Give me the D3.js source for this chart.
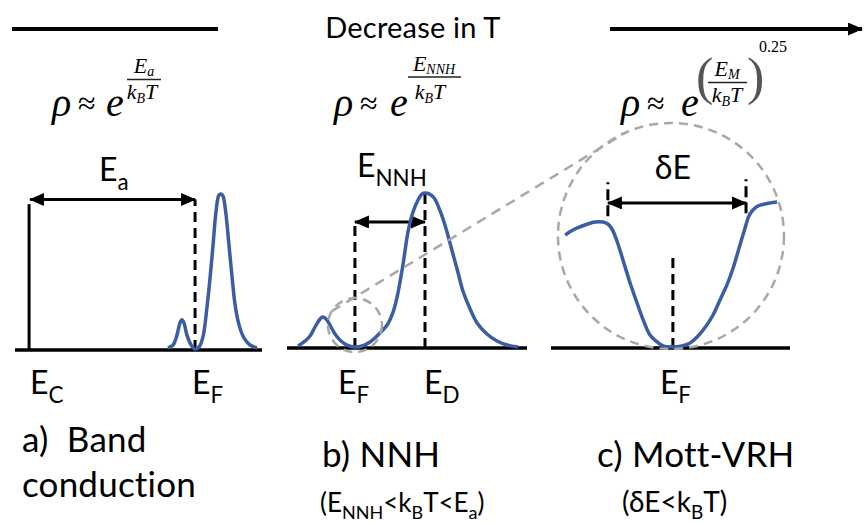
<!DOCTYPE html>
<html><head><meta charset="utf-8">
<script src="https://cdn.jsdelivr.net/npm/d3@7"></script>
<style>body{margin:0;background:#fff}svg{display:block}text{font-variant-ligatures:none;font-feature-settings:"liga" 0,"calt" 0,"dlig" 0}</style>
</head><body>
<script>
// ---------------- DATA ----------------
// (a) Band conduction: density of states vs energy (arbitrary units 0-100)
const bandEnergy = [61.9,64.0,65.6,66.8,67.6,68.4,69.6,71.3,72.9,74.5,76.1,77.7,78.9,80.2,81.4,82.6,83.4,84.2,85.4,86.6,87.9,89.1,90.7,92.7,95.1,98.0];
const bandDOS    = [1.3,3.2,9.7,17.4,19.4,17.4,9.7,3.2,0.6,1.9,8.4,27.1,45.2,67.7,89.0,99.4,100,98.7,87.1,67.7,46.5,29.0,16.1,7.7,3.2,1.3];
const bandLevels = {EC: 5.7, EF: 72.9};

// (b) NNH
const nnhEnergy = [4.6,7.1,9.6,12.1,14.2,15.0,16.3,17.9,20.0,22.5,25.0,28.3,31.3,34.6,37.9,41.7,44.2,45.8,48.3,50.4,52.5,54.6,56.3,57.5,59.2,61.3,63.8,66.3,68.8,71.3,73.3,76.3,79.2,83.3,87.5,91.7,96.3];
const nnhDOS    = [1.3,3.9,7.7,14.8,19.4,20.0,18.7,14.8,9.0,4.5,1.9,0.6,1.3,3.9,8.4,14.8,23.2,32.3,53.5,74.8,87.7,95.5,99.4,100,99.4,96.8,88.4,76.8,62.6,48.4,36.8,25.2,16.1,9.0,4.5,1.9,0.6];
const nnhLevels = {EF: 28.3, ED: 57.5};

// (c) Mott-VRH (zoom near EF)
const vrhEnergy = [5.9,10.0,14.2,18.4,21.8,23.8,25.5,27.6,30.1,33.1,36.0,38.9,41.4,44.4,46.9,51.0,54.8,58.2,61.5,64.9,67.8,70.7,73.6,76.2,78.7,81.2,82.8,84.5,86.6,89.5,94.6];
const vrhDOS    = [76.4,80.4,83.1,85.1,85.1,83.8,80.4,72.3,59.5,43.9,30.4,17.6,8.8,4.1,1.4,0.7,1.4,3.4,8.1,14.9,22.3,32.4,42.6,54.1,67.6,81.1,89.2,93.2,95.9,97.3,98.6];
const vrhLevels = {EF: 51.0, dE1: 23.8, dE2: 81.6};

// Text
const topTitle = "Decrease in T";
const panelTitles = [["a)  Band","conduction"],["b) NNH"],["c) Mott-VRH"]];

// ---------------- DRAW ----------------
const W = 865, H = 523;
const svg = d3.select("body").append("svg").attr("width", W).attr("height", H);
const BLUE = "#3a5da3", GREY = "#a8a8a8", INK = "#000";
const SANS = "Lato, 'Open Sans', sans-serif";
const SERIF = "'Liberation Serif', 'DejaVu Serif', serif";

const defs = svg.append("defs");
defs.append("marker").attr("id","ah").attr("markerUnits","userSpaceOnUse")
  .attr("markerWidth",18).attr("markerHeight",14).attr("refX",14).attr("refY",6.5)
  .attr("orient","auto-start-reverse")
  .append("path").attr("d","M0,0 L15,6.5 L0,13 Z").attr("fill","#000");

// scales per panel
const xA = d3.scaleLinear().domain([0,100]).range([15,262]);
const yA = d3.scaleLinear().domain([0,100]).range([350,194]);
const xB = d3.scaleLinear().domain([0,100]).range([287,527]);
const yB = d3.scaleLinear().domain([0,100]).range([348,193]);
const xC = d3.scaleLinear().domain([0,100]).range([551,790]);
const yC = d3.scaleLinear().domain([0,100]).range([348,200]);

function seg(x1,y1,x2,y2,opt={}) {
  const l = svg.append("line").attr("x1",x1).attr("y1",y1).attr("x2",x2).attr("y2",y2)
    .attr("stroke", opt.color||"#000").attr("stroke-width", opt.w||3);
  if (opt.dash) l.attr("stroke-dasharray", opt.dash);
  if (opt.start) l.attr("marker-start","url(#ah)");
  if (opt.end) l.attr("marker-end","url(#ah)");
  return l;
}
function rich(x,y,parts,opt) {
  const t = svg.append("text").attr("x",x).attr("y",y)
    .attr("font-family", opt.family||SANS).attr("font-size", opt.size)
    .attr("text-anchor", opt.anchor||"start").attr("fill",INK);
  if (opt.italic) t.attr("font-style","italic");
  let shift = 0;
  parts.forEach(p => {
    const [txt, kind] = Array.isArray(p) ? p : [p, "n"];
    const target = kind==="sub" ? (opt.subDy!==undefined?opt.subDy:opt.size*0.28) : 0;
    const ts = t.append("tspan").text(txt).attr("dy", target-shift);
    if (kind==="sub") ts.attr("font-size", opt.subSize||opt.size*0.7);
    shift = target;
  });
  return t;
}
function plain(x,y,txt,size,anchor) {
  return svg.append("text").attr("x",x).attr("y",y).attr("text-anchor",anchor||"start")
    .attr("font-family",SANS).attr("font-size",size).attr("fill",INK)
    .style("white-space","pre").style("letter-spacing","0.2px").text(txt);
}

// top arrow + title
seg(12,29,218,29,{w:4});
seg(610,29,862,29,{w:4,end:true});
plain(413,38,topTitle,29,"middle");

const line = (xs,ys) => d3.line().x(d=>xs(d[0])).y(d=>ys(d[1])).curve(d3.curveCatmullRom.alpha(0.5));
const DASH = "10,6";

// ---- panel a ----
seg(xA(0),yA(0),xA(100),yA(0),{w:3.5});
seg(xA(bandLevels.EC),yA(0),xA(bandLevels.EC),yA(93.5),{w:3});
seg(xA(bandLevels.EF),yA(0),xA(bandLevels.EF),yA(96.5),{w:3,dash:DASH});
seg(xA(bandLevels.EC)+1,yA(96.5),xA(bandLevels.EF),yA(96.5),{w:3,start:true,end:true});
svg.append("path").datum(d3.zip(bandEnergy,bandDOS)).attr("d",line(xA,yA))
  .attr("fill","none").attr("stroke",BLUE).attr("stroke-width",3.5);
rich(99,181,["E",["a","sub"]],{size:32});
rich(xA(bandLevels.EC)+1,394,["E",["C","sub"]],{size:32});
rich(xA(bandLevels.EF)-3,394,["E",["F","sub"]],{size:32});

// ---- panel b ----
seg(xB(0),yB(0),xB(100),yB(0),{w:3.5});
seg(xB(nnhLevels.EF),yB(0),xB(nnhLevels.EF),yB(82.6),{w:3,dash:DASH});
seg(xB(nnhLevels.ED),yB(0),xB(nnhLevels.ED),yB(100),{w:3,dash:DASH});
seg(xB(nnhLevels.EF),yB(81.3),xB(nnhLevels.ED),yB(81.3),{w:3,start:true,end:true});
svg.append("path").datum(d3.zip(nnhEnergy,nnhDOS)).attr("d",line(xB,yB))
  .attr("fill","none").attr("stroke",BLUE).attr("stroke-width",3.5);
rich(357,177,["E",["NNH","sub"]],{size:32});
rich(xB(nnhLevels.EF)-17,394,["E",["F","sub"]],{size:32});
rich(xB(nnhLevels.ED)-1,394,["E",["D","sub"]],{size:32});

// ---- panel c ----
seg(xC(0),yC(0),xC(100),yC(0),{w:3.5});
seg(xC(vrhLevels.EF),yC(0),xC(vrhLevels.EF),yC(64),{w:3,dash:DASH});
seg(xC(vrhLevels.dE1),yC(89),xC(vrhLevels.dE1),yC(112),{w:3,dash:"11,5"});
seg(xC(vrhLevels.dE2),yC(91),xC(vrhLevels.dE2),yC(114),{w:3,dash:"11,5"});
seg(xC(vrhLevels.dE1),yC(98),xC(vrhLevels.dE2),yC(98),{w:3,start:true,end:true});
svg.append("path").datum(d3.zip(vrhEnergy,vrhDOS)).attr("d",line(xC,yC))
  .attr("fill","none").attr("stroke",BLUE).attr("stroke-width",3.5);
plain(xC(vrhLevels.EF),179,"δE",32,"middle");
rich(xC(vrhLevels.EF)-13,394,["E",["F","sub"]],{size:32});

// ---- zoom circles ----
const c1 = {x:xB(nnhLevels.EF), y:yB(14.8), r:27};
const c2 = {x:xC(50.2), y:yC(75.7), r:113};
[c1,c2].forEach(c => svg.append("circle").attr("cx",c.x).attr("cy",c.y).attr("r",c.r)
  .attr("fill","none").attr("stroke",GREY).attr("stroke-width",2.5).attr("stroke-dasharray","9,6"));
const a1 = 211*Math.PI/180, a2 = 247*Math.PI/180;
seg(c1.x+c1.r*Math.cos(a1), c1.y+c1.r*Math.sin(a1), c2.x+c2.r*Math.cos(a2), c2.y+c2.r*Math.sin(a2),
  {w:2.5,color:GREY,dash:"10,7"});

// ---- formulas ----
function formula(px, ex, num, numCx, numY, lineX1, lineX2, lineY, denCx, denY) {
  svg.append("text").attr("x",px).attr("y",116).attr("font-family",SERIF).attr("font-style","italic")
    .attr("font-size",40).attr("fill",INK).text("ρ");
  svg.append("text").attr("x",px+26).attr("y",114).attr("font-family",SERIF)
    .attr("font-size",32).attr("fill",INK).text("≈");
  svg.append("text").attr("x",ex).attr("y",116).attr("font-family",SERIF).attr("font-style","italic")
    .attr("font-size",40).attr("fill",INK).text("e");
  rich(numCx,numY,num,{size:22,family:SERIF,italic:true,anchor:"middle",subSize:14,subDy:3});
  seg(lineX1,lineY,lineX2,lineY,{w:1.5,color:"#222"});
  rich(denCx,denY,["k",["B","sub"],"T"],{size:22,family:SERIF,italic:true,anchor:"middle",subSize:14,subDy:4});
}
formula(52,106,["E",["a","sub"]],144,73,127,161,79.5,142,99);
formula(334,390,["E",["NNH","sub"]],434,71,408,461,77,430,99);
formula(621,681,["E",["M","sub"]],727,76,708,747,82.5,727,102);
svg.append("text").attr("x",696).attr("y",94).attr("font-family",SERIF).attr("font-size",52)
  .attr("fill","#555").text("(");
svg.append("text").attr("x",747).attr("y",94).attr("font-family",SERIF).attr("font-size",52)
  .attr("fill","#555").text(")");
svg.append("text").attr("x",759).attr("y",52).attr("font-family",SERIF).attr("font-size",16)
  .attr("fill",INK).text("0.25");

// ---- panel titles ----
plain(22,452,panelTitles[0][0],35);
plain(22,497,panelTitles[0][1],35);
plain(322,467,panelTitles[1][0],35);
plain(597,467,panelTitles[2][0],35);
rich(320,512,["(E",["NNH","sub"],"<k",["B","sub"],"T<E",["a","sub"],")"],{size:26,subSize:18,subDy:7});
rich(622,512,["(δE<k",["B","sub"],"T)"],{size:28,subSize:19,subDy:7});
</script>
</body></html>
